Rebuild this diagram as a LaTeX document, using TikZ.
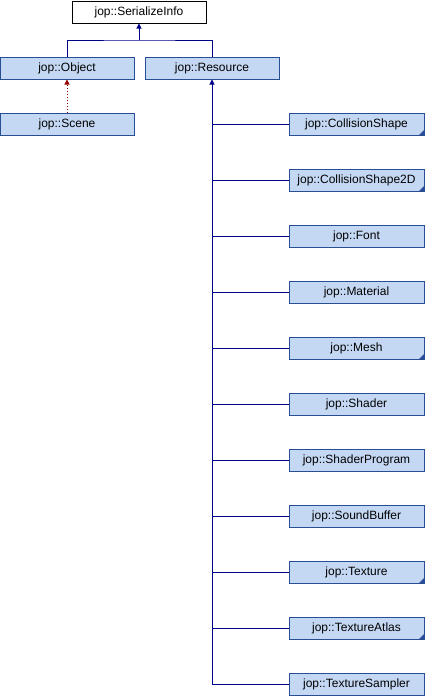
\documentclass[tikz,border=0pt]{standalone}
\usepackage{fontspec}
\setmainfont{Liberation Sans}
\usetikzlibrary{arrows.meta}

\definecolor{clsfill}{RGB}{197,216,243}
\definecolor{clsborder}{RGB}{40,78,150}
\definecolor{inhblue}{RGB}{0,0,136}
\definecolor{tplred}{RGB}{150,0,0}

\tikzset{
  cls/.style={draw=clsborder, fill=clsfill, line width=1pt, inner sep=0pt,
    minimum width=134pt, minimum height=22pt,
    font=\fontsize{12}{14}\selectfont},
  more/.style={path picture={\fill[clsborder] (path picture bounding box.south east)
    -- ++(-5pt,0pt) -- ++(5pt,5pt) -- cycle;}},
  edge/.style={inhblue, line width=1pt},
  tip/.style={-{Triangle[width=5pt,length=5pt]}}
}

\begin{document}
\begin{tikzpicture}[x=1pt, y=-1pt]
  \useasboundingbox (0,0) rectangle (425,696);

  \node[cls, fill=white, draw=black] (si) at (139,12) {jop::SerializeInfo};
  \node[cls] (obj) at (67,68) {jop::Object};
  \node[cls] (res) at (212,68) {jop::Resource};
  \node[cls] (scene) at (67,124) {jop::Scene};

  % right column, 56 apart
  \node[cls, more, minimum width=135pt] (cshape) at (356.5,124) {jop::CollisionShape};
  \node[cls, more, minimum width=135pt] (cshape2) at (356.5,180) {jop::CollisionShape2D};
  \node[cls, minimum width=135pt] (font) at (356.5,236) {jop::Font};
  \node[cls, minimum width=135pt] (mat) at (356.5,292) {jop::Material};
  \node[cls, more, minimum width=135pt] (mesh) at (356.5,348) {jop::Mesh};
  \node[cls, minimum width=135pt] (shader) at (356.5,404) {jop::Shader};
  \node[cls, minimum width=135pt] (prog) at (356.5,460) {jop::ShaderProgram};
  \node[cls, minimum width=135pt] (sound) at (356.5,516) {jop::SoundBuffer};
  \node[cls, more, minimum width=135pt] (tex) at (356.5,572) {jop::Texture};
  \node[cls, more, minimum width=135pt] (atlas) at (356.5,628) {jop::TextureAtlas};
  \node[cls, minimum width=135pt] (sampler) at (356.5,684) {jop::TextureSampler};

  \coordinate (join) at (139,40);
  \draw[edge] (obj.north) |- (join) -| (res.north);
  \draw[edge, tip] (join) -- (si.south);

  \draw[tplred, line width=1pt, dotted, tip] (scene.north) -- (obj.south);

  \draw[edge, tip] (sampler.west -| res.south) -- (res.south);
  \draw[edge] (cshape.west) -- (cshape.west -| res.south);
  \draw[edge] (cshape2.west) -- (cshape2.west -| res.south);
  \draw[edge] (font.west) -- (font.west -| res.south);
  \draw[edge] (mat.west) -- (mat.west -| res.south);
  \draw[edge] (mesh.west) -- (mesh.west -| res.south);
  \draw[edge] (shader.west) -- (shader.west -| res.south);
  \draw[edge] (prog.west) -- (prog.west -| res.south);
  \draw[edge] (sound.west) -- (sound.west -| res.south);
  \draw[edge] (tex.west) -- (tex.west -| res.south);
  \draw[edge] (atlas.west) -- (atlas.west -| res.south);
  \draw[edge] (sampler.west) -- (sampler.west -| res.south);
\end{tikzpicture}
\end{document}
